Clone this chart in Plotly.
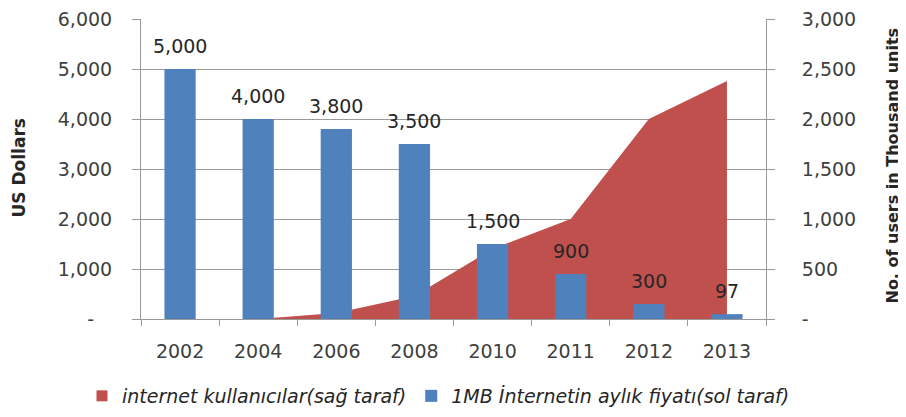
import plotly.graph_objects as go

years = ["2002", "2004", "2006", "2008", "2010", "2011", "2012", "2013"]
price_usd = [5000, 4000, 3800, 3500, 1500, 900, 300, 97]
users_thousand = [None, 0, 60, 230, 700, 1000, 2000, 2380]

left_ticks = [0, 1000, 2000, 3000, 4000, 5000, 6000]
left_ticktext = ["-\u00a0\u00a0\u00a0", "1,000", "2,000", "3,000", "4,000", "5,000", "6,000"]
right_ticks = [0, 500, 1000, 1500, 2000, 2500, 3000]
right_ticktext = ["-", "500", "1,000", "1,500", "2,000", "2,500", "3,000"]

area_x = [x for x, v in zip(years, users_thousand) if v is not None]
area_y = [v for v in users_thousand if v is not None]

RED = "#C0504D"
BLUE = "#4F81BD"
GRID = "#9a9a9a"
TICKFONT = dict(family="DejaVu Sans", size=19, color="#404040")

# the page body has an 8px default margin; shift the figure content to compensate
OFF = 8
PL, PT, PW, PH = 141, 19, 625, 301  # target plot-area box in page pixels

fig = go.Figure()
fig.add_trace(go.Scatter(
    x=area_x, y=area_y, yaxis="y", mode="none", fill="tozeroy",
    fillcolor=RED, showlegend=False, name="internet kullanıcılar(sağ taraf)",
))
# legend entry for the area (square swatch as in the reference)
fig.add_trace(go.Scatter(
    x=[None], y=[None], yaxis="y", mode="markers",
    marker=dict(symbol="square", size=11, color=RED),
    name="<i>internet kullanıcılar(sağ taraf)</i>",
))
fig.add_trace(go.Bar(
    x=years, y=price_usd, yaxis="y2", width=0.4, marker_color=BLUE,
    marker_line_width=0, name="<i>1MB İnternetin aylık fiyatı(sol taraf)</i>",
))

annotations = []
for i, v in enumerate(price_usd):
    annotations.append(dict(
        x=i, y=v, xref="x", yref="y2", text=f"{v:,}", showarrow=False,
        yshift=23, font=dict(family="DejaVu Sans", size=19, color="#262626"),
    ))
annotations.append(dict(
    x=(19 - PL) / PW, y=(PT + PH - 168) / PH, xref="paper", yref="paper",
    text="<b>US Dollars</b>", textangle=-90, showarrow=False,
    font=dict(family="DejaVu Sans", size=17, color="#262626"),
    xanchor="center", yanchor="middle",
))
annotations.append(dict(
    x=(893 - PL) / PW, y=(PT + PH - 166) / PH, xref="paper", yref="paper",
    text="<b>No. of users in Thousand units</b>", textangle=-90, showarrow=False,
    font=dict(family="DejaVu Sans", size=16, color="#262626"),
    xanchor="center", yanchor="middle",
))

fig.update_layout(
    width=906, height=417,
    margin=dict(l=PL - OFF, r=906 - (PL - OFF) - PW, t=PT - OFF,
                b=417 - (PT - OFF) - PH),
    paper_bgcolor="white", plot_bgcolor="white",
    showlegend=True,
    legend=dict(
        orientation="h",
        x=(82 - PL) / PW, y=(PT + PH - 396) / PH, xanchor="left", yanchor="middle",
        font=dict(family="DejaVu Sans", size=19, color="#262626"),
        itemwidth=30, tracegroupgap=0,
    ),
    xaxis=dict(
        type="category", categoryorder="array", categoryarray=years,
        range=[-0.5, 7.5], tickson="boundaries",
        ticks="outside", ticklen=6, tickcolor=GRID, showline=True,
        linecolor=GRID, showgrid=False, tickfont=TICKFONT,
        ticklabelstandoff=15, automargin=False,
    ),
    yaxis=dict(
        side="right", range=[0, 3000], tickvals=right_ticks,
        ticktext=right_ticktext, showgrid=True, gridcolor=GRID, gridwidth=1,
        showline=True, linecolor=GRID, ticks="outside", ticklen=8,
        tickcolor=GRID, tickfont=TICKFONT, zeroline=False,
        ticklabelstandoff=23, automargin=False, ticklabeloverflow="allow",
    ),
    yaxis2=dict(
        side="left", overlaying="y", range=[0, 6000], tickvals=left_ticks,
        ticktext=left_ticktext, showgrid=False, showline=True,
        linecolor=GRID, ticks="outside", ticklen=8, tickcolor=GRID,
        tickfont=TICKFONT, zeroline=False, ticklabelstandoff=16,
        automargin=False, ticklabeloverflow="allow",
    ),
    annotations=annotations,
    bargap=0.6,
)

fig.write_html("out.html")
